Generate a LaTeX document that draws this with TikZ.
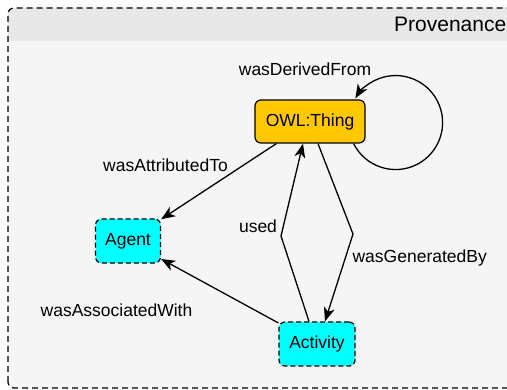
\documentclass[tikz,border=0pt]{standalone}
\usepackage{fontspec}
\setmainfont{Liberation Sans}
\usetikzlibrary{arrows.meta,calc}
\definecolor{owlfill}{RGB}{255,200,0}
\definecolor{cyanfill}{RGB}{0,255,255}
\definecolor{bodybg}{RGB}{245,245,245}
\definecolor{headbg}{RGB}{232,232,232}
\begin{document}
\begin{tikzpicture}[x=1pt,y=1pt,
  every node/.style={font=\fontsize{17.5}{20}\selectfont},
  classbox/.style={draw=black, line width=1.2pt, rounded corners=6pt, inner sep=0pt, align=center},
  owlbox/.style={classbox, fill=owlfill, minimum width=110pt, minimum height=43pt},
  cyanbox/.style={classbox, fill=cyanfill, dash pattern=on 5pt off 3pt, minimum height=44pt},
  rel/.style={draw=black, line width=1.3pt, -{Stealth[length=14pt,width=11pt,inset=4pt]}},
  lbl/.style={inner sep=0pt}]
\useasboundingbox (0,0) rectangle (507,390);
% container
\fill[bodybg, rounded corners=6pt] (8,2) rectangle (540,382);
\fill[headbg, rounded corners=6pt] (8,349) rectangle (540,382);
\fill[headbg] (8,349) rectangle (540,360);
\draw[black, line width=1.2pt, dash pattern=on 6pt off 4pt, rounded corners=6pt] (8,2) rectangle (540,382);
\node[lbl, anchor=west, font=\fontsize{21}{24}\selectfont] (prov) at (394,365.5) {Provenance};
% nodes
\node[owlbox] (owl) at (310,268.5) {OWL:Thing};
\node[cyanbox, minimum width=65pt] (agent) at (128,149) {Agent};
\node[cyanbox, minimum width=76pt] (act) at (317,46) {Activity};
% self loop
\coordinate (loopstart) at ($(owl.south east)+(-12,0)$);
\draw[rel] (loopstart) arc[start angle=206.6, end angle=509, radius=47];
\node[lbl] (ldf) at (305,321) {wasDerivedFrom};
% attributed
\draw[rel] (owl) -- (agent);
\node[lbl] (lat) at (165.5,225) {wasAttributedTo};
% associated
\draw[rel] (act) -- (agent);
\node[lbl] (law) at (116.5,80) {wasAssociatedWith};
% used
\coordinate (ubend) at (281,154);
\draw[rel] ($(act.north)+(-8,0)$) -- (ubend) -- ($(owl.south)+(-7,0)$);
\node[lbl] (lused) at (258,164) {used};
% generated
\coordinate (gbend) at (353,156);
\draw[rel] ($(owl.south)+(8,0)$) -- (gbend) -- ($(act.north)+(8,0)$);
\node[lbl] (lgen) at (419.7,132) {wasGeneratedBy};
\end{tikzpicture}
\end{document}
